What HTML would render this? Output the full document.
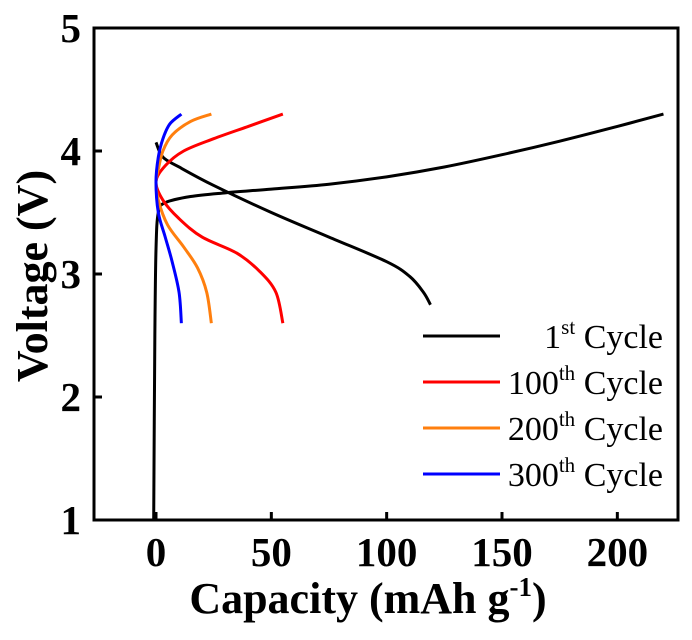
<!DOCTYPE html>
<html><head><meta charset="utf-8"><style>
html,body{margin:0;padding:0;background:#fff;}
svg{display:block;font-family:"Liberation Serif",serif;}
</style></head><body>
<svg id="chart" width="692" height="640">
<text x="368" y="613" text-anchor="middle" font-size="44" font-weight="bold">Capacity (mAh g<tspan font-size="27" dy="-17">-1</tspan><tspan dy="17">)</tspan></text>
<text transform="translate(47,276) rotate(-90)" text-anchor="middle" font-size="44" font-weight="bold">Voltage (V)</text>
</svg>
<script>
const xTicks=[0,50,100,150,200];
const yTicks=[1,2,3,4,5];
const seriesNames=["1st","100th","200th","300th"];
const seriesColors=["#000","#f00","#ff7f0e","#00f"];
const c1x=[-1,-0.5,0,1,4,15,30,50,75,100,125,150,175,200,220];
const c1y=[1.0,2.5,3.2,3.5,3.58,3.63,3.66,3.69,3.73,3.79,3.87,3.97,4.08,4.2,4.3];
const d1x=[0,3,10,25,50,75,100,110,116,119];
const d1y=[4.07,3.95,3.87,3.72,3.5,3.3,3.1,2.98,2.85,2.75];
const s100x=[55,40,25,12,4,0,3,10,20,35,45,52,55];
const s100y=[4.3,4.2,4.1,4.0,3.88,3.75,3.6,3.45,3.3,3.17,3.02,2.85,2.6];
const s200x=[24,15,7,3,1,0,1,5,12,18,22,24];
const s200y=[4.3,4.24,4.13,4.0,3.85,3.75,3.6,3.4,3.22,3.05,2.85,2.6];
const s300x=[11,6,3,1,0,1,4,7,10,11];
const s300y=[4.3,4.22,4.1,3.95,3.75,3.5,3.3,3.1,2.85,2.6];

const L=94,R=678,T=28,B=520;
const xs=c=>156+c*(502-156)/150;
const ys=v=>B-(v-1)*(B-T)/4;
const NS="http://www.w3.org/2000/svg";
const svg=document.getElementById('chart');
function mk(t,a,p){const e=document.createElementNS(NS,t);for(const k in a)e.setAttribute(k,a[k]);(p||svg).appendChild(e);return e;}
function path(xa,ya){const P=xa.map((x,i)=>[xs(x),ys(ya[i])]);let d=`M${P[0][0]},${P[0][1]}`;
for(let i=0;i<P.length-1;i++){const p0=P[i-1]||P[i],p1=P[i],p2=P[i+1],p3=P[i+2]||p2;
d+=` C${p1[0]+(p2[0]-p0[0])/6},${p1[1]+(p2[1]-p0[1])/6} ${p2[0]-(p3[0]-p1[0])/6},${p2[1]-(p3[1]-p1[1])/6} ${p2[0]},${p2[1]}`;}return d;}
const curves=[[c1x,c1y,0,'first-cycle-charge'],[d1x,d1y,0,'first-cycle-discharge'],[s100x,s100y,1,'cycle-100-curve'],[s200x,s200y,2,'cycle-200-curve'],[s300x,s300y,3,'cycle-300-curve']];
curves.forEach(c=>{const e=mk('path',{d:path(c[0],c[1]),fill:'none',stroke:seriesColors[c[2]],'stroke-width':3});

});
const frame=mk('rect',{x:L,y:T,width:R-L,height:B-T,fill:'none',stroke:'#000','stroke-width':3});


xTicks.forEach(t=>{const x=xs(t);const l=mk('line',{x1:x,x2:x,y1:B,y2:B-8,stroke:'#000','stroke-width':3});


const tx=mk('text',{x:x,y:B+46,'text-anchor':'middle','font-size':41,'font-weight':'bold'});tx.textContent=t;

});
yTicks.forEach(t=>{const y=ys(t);const l=mk('line',{x1:L,x2:L+8,y1:y,y2:y,stroke:'#000','stroke-width':3});


const tx=mk('text',{x:81,y:y+14,'text-anchor':'end','font-size':41,'font-weight':'bold'});tx.textContent=t;

});
const lg=mk('g',{});


mk('rect',{x:419,y:308,width:250,height:190,fill:'#fff'},lg);
seriesNames.forEach((n,i)=>{const y=336+i*46;
const l=mk('line',{x1:423,x2:500,y1:y,y2:y,stroke:seriesColors[i],'stroke-width':3},lg);


const num=n.replace(/\D/g,''),suf=n.replace(/\d/g,'');
const t=mk('text',{x:663,y:y+12,'text-anchor':'end','font-size':34},lg);
t.innerHTML=`${num}<tspan font-size="21" dy="-14">${suf}</tspan><tspan dy="14"> Cycle</tspan>`;

});
</script>
</body></html>
